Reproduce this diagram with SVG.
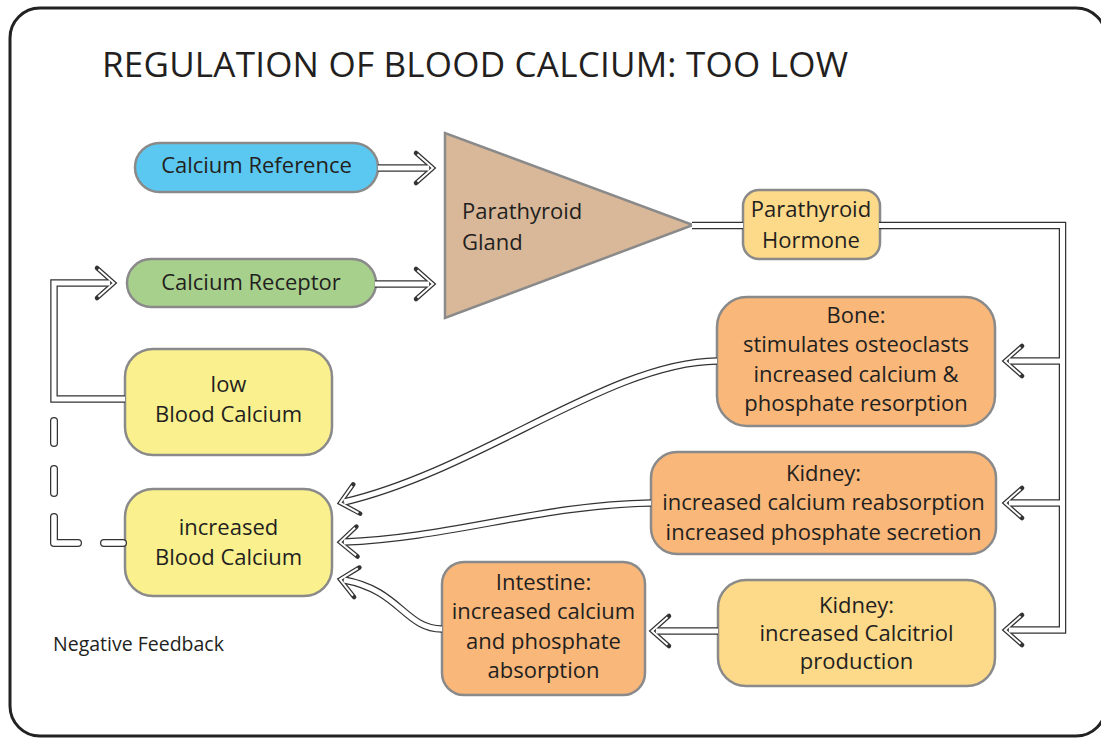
<svg xmlns="http://www.w3.org/2000/svg" xmlns:xlink="http://www.w3.org/1999/xlink" width="1101" height="740" viewBox="0 0 1101 740">
<style>
.t{font-family:"Open Sans","Noto Sans","DejaVu Sans",sans-serif;font-size:22px;fill:#231f20;text-anchor:middle}
.ts{text-anchor:start}
.box{stroke:#8a8a8a;stroke-width:2.5}
.blue{fill:#5bc8f1}
.green{fill:#a8d08d}
.tan{fill:#d9b89a}
.lo{fill:#fdd98a}
.or{fill:#f9b77a}
.ye{fill:#faf08e}
.cd{fill:none;stroke:#333;stroke-width:7.5;stroke-linejoin:miter}
.cl{fill:none;stroke:#fff;stroke-width:5;stroke-linejoin:miter}
.ad{marker-end:url(#ahd)}
.al{marker-end:url(#ahl)}
.dd{fill:none;stroke:#333;stroke-width:8;stroke-linecap:round;stroke-linejoin:round;stroke-dasharray:19 26 50 24 24 26 22 300}
.dl{fill:none;stroke:#fff;stroke-width:5.5;stroke-linecap:round;stroke-linejoin:round;stroke-dasharray:19 26 50 24 24 26 22 300}
</style>
<defs>
<marker id="ahd" markerUnits="userSpaceOnUse" markerWidth="40" markerHeight="40" refX="0" refY="0" orient="auto" overflow="visible">
<path d="M-13,-15 L4,0 L-13,15" fill="none" stroke="#333" stroke-width="4.5" stroke-linejoin="miter" stroke-linecap="round" stroke-miterlimit="10"/>
</marker>
<marker id="ahl" markerUnits="userSpaceOnUse" markerWidth="40" markerHeight="40" refX="0" refY="0" orient="auto" overflow="visible">
<path d="M-11.6,-13.8 L4,0 L-11.6,13.8" fill="none" stroke="#fff" stroke-width="2" stroke-linejoin="miter" stroke-miterlimit="10"/>
</marker>
<path id="c1" d="M378,168 L429,168"/>
<path id="c2" d="M375,284 L429,284"/>
<path id="c3" d="M692,225.5 L743,225.5"/>
<path id="c4" d="M879,225.5 L1062.5,225.5 L1062.5,630 L1009,630"/>
<path id="c5" d="M1062.5,361 L1009,361"/>
<path id="c6" d="M1062.5,503 L1009,503"/>
<path id="c7" d="M717,361 C610,362 480,470 344,502"/>
<path id="c8" d="M651,503 C540,505 450,538 344,542"/>
<path id="c9" d="M718,631 L656,631"/>
<path id="c10" d="M442,629 C405,629 400,590 344,580"/>
<path id="c11" d="M125,399 L54,399 L54,283 L110,283"/>
<path id="c12" d="M123,543 L54,543 L54,400"/>
</defs>

<rect x="0" y="0" width="1101" height="740" fill="#fff"/>
<rect x="10" y="8" width="1096" height="728" rx="30" fill="#fff" stroke="#222" stroke-width="3"/>

<text class="t ts" x="102" y="77" style="font-size:35px" textLength="746">REGULATION OF BLOOD CALCIUM: TOO LOW</text>

<g id="calcium-reference">
<rect class="box blue" x="135" y="143" width="243" height="49" rx="24.5"/>
<text class="t" x="256.5" y="173">Calcium Reference</text>
</g>
<g id="calcium-receptor">
<rect class="box green" x="127" y="259" width="249" height="48" rx="24"/>
<text class="t" x="251" y="290">Calcium Receptor</text>
</g>
<g id="parathyroid-gland">
<polygon class="box tan" points="445,133 445,318 693,225"/>
<text class="t ts" x="462" y="219">Parathyroid</text>
<text class="t ts" x="462" y="250">Gland</text>
</g>
<g id="parathyroid-hormone">
<rect class="box lo" x="743" y="190" width="137" height="69" rx="16"/>
<text class="t" x="811" y="217">Parathyroid</text>
<text class="t" x="811" y="248">Hormone</text>
</g>
<g id="bone">
<rect class="box or" x="717" y="297" width="278" height="129" rx="30"/>
<text class="t" x="856" y="323">Bone:</text>
<text class="t" x="856" y="352">stimulates osteoclasts</text>
<text class="t" x="856" y="382">increased calcium &amp;</text>
<text class="t" x="856" y="411">phosphate resorption</text>
</g>
<g id="kidney-reabsorption">
<rect class="box or" x="651" y="452" width="345" height="102" rx="26"/>
<text class="t" x="823.5" y="481">Kidney:</text>
<text class="t" x="823.5" y="510">increased calcium reabsorption</text>
<text class="t" x="823.5" y="540">increased phosphate secretion</text>
</g>
<g id="kidney-calcitriol">
<rect class="box lo" x="718" y="580" width="277" height="106" rx="28"/>
<text class="t" x="856.5" y="613">Kidney:</text>
<text class="t" x="856.5" y="641">increased Calcitriol</text>
<text class="t" x="856.5" y="669">production</text>
</g>
<g id="intestine">
<rect class="box or" x="442" y="562" width="203" height="133" rx="22"/>
<text class="t" x="543.5" y="590">Intestine:</text>
<text class="t" x="543.5" y="619">increased calcium</text>
<text class="t" x="543.5" y="649">and phosphate</text>
<text class="t" x="543.5" y="678">absorption</text>
</g>
<g id="low-blood-calcium">
<rect class="box ye" x="125" y="349" width="207" height="106" rx="28"/>
<text class="t" x="228.5" y="392">low</text>
<text class="t" x="228.5" y="422">Blood Calcium</text>
</g>
<g id="increased-blood-calcium">
<rect class="box ye" x="125" y="489" width="207" height="107" rx="28"/>
<text class="t" x="228.5" y="535">increased</text>
<text class="t" x="228.5" y="565">Blood Calcium</text>
</g>
<g id="negative-feedback">
<text class="t ts" x="53" y="651" style="font-size:19.5px">Negative Feedback</text>
</g>

<g id="connectors">
<use xlink:href="#c1" class="cd ad"/>
<use xlink:href="#c2" class="cd ad"/>
<use xlink:href="#c3" class="cd"/>
<use xlink:href="#c4" class="cd ad"/>
<use xlink:href="#c5" class="cd ad"/>
<use xlink:href="#c6" class="cd ad"/>
<use xlink:href="#c7" class="cd ad"/>
<use xlink:href="#c8" class="cd ad"/>
<use xlink:href="#c9" class="cd ad"/>
<use xlink:href="#c10" class="cd ad"/>
<use xlink:href="#c11" class="cd ad"/>
<use xlink:href="#c12" class="dd"/>
<use xlink:href="#c1" class="cl al"/>
<use xlink:href="#c2" class="cl al"/>
<use xlink:href="#c3" class="cl"/>
<use xlink:href="#c4" class="cl al"/>
<use xlink:href="#c5" class="cl al"/>
<use xlink:href="#c6" class="cl al"/>
<use xlink:href="#c7" class="cl al"/>
<use xlink:href="#c8" class="cl al"/>
<use xlink:href="#c9" class="cl al"/>
<use xlink:href="#c10" class="cl al"/>
<use xlink:href="#c11" class="cl al"/>
<use xlink:href="#c12" class="dl"/>
</g>
</svg>
